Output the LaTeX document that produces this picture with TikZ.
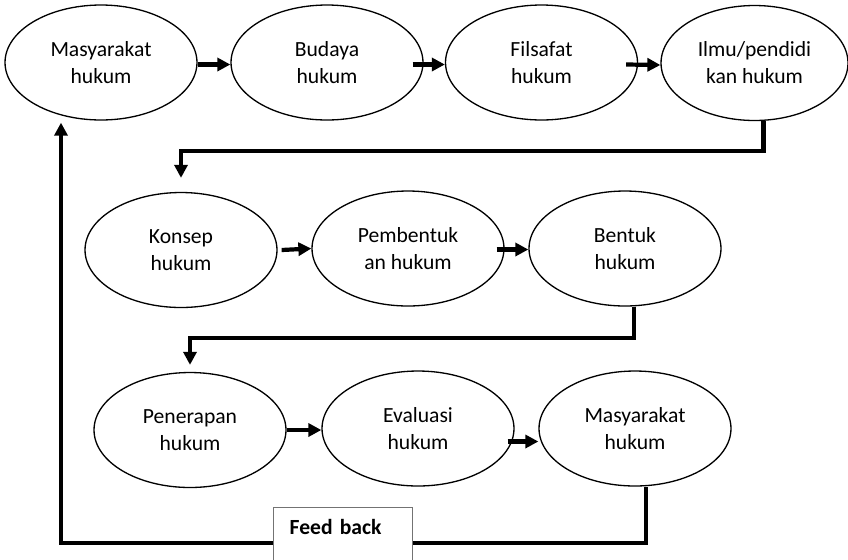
\documentclass[tikz,border=0pt]{standalone}
\usepackage{fontspec}
\setmainfont{Carlito}
\usetikzlibrary{shapes.geometric,arrows.meta,calc}

\begin{document}
\begin{tikzpicture}[x=0.02cm,y=-0.02cm,
  every node/.style={font=\fontsize{12.3}{15.4}\selectfont},
  stage/.style={ellipse,draw,line width=0.75pt,minimum width=3.84cm,minimum height=2.3cm,inner sep=0pt,align=center},
  flow/.style={line width=2.4pt,-{Triangle[length=2.6mm,width=2.6mm]}},
  fbbox/.style={draw=black!55,line width=0.8pt,fill=white,anchor=north west,inner xsep=0.32cm,inner ysep=0pt,
    text width=2.14cm,align=left,text height=0.54cm,text depth=0.56cm}]
\useasboundingbox (0,0) rectangle (848,559);

% Row 1
\node[stage] (masy1) at (101,62.5) {Masyarakat\\hukum};
\node[stage] (budaya) at (327,62.5) {Budaya\\hukum};
\node[stage] (filsafat) at (541.5,62.5) {Filsafat\\hukum};
\node[stage,minimum width=3.74cm] (ilmu) at (754.5,63) {Ilmu/pendidi\\kan hukum};

\draw[flow] ($(masy1.east)+(0,2)$) -- ($(budaya.west)+(0,2)$);
\draw[flow] ($(budaya.east)+(-11,2)$) -- ($(filsafat.west)+(0,2)$);
\draw[flow] ($(filsafat.east)+(-12,2)$) -- ($(ilmu.west)+(0,2)$);

% Row 2
\node[stage] (konsep) at (181,250) {Konsep\\hukum};
\node[stage] (pembentuk) at (408,248.5) {Pembentuk\\an hukum};
\node[stage] (bentuk) at (625,248.5) {Bentuk\\hukum};

\draw[flow] ($(ilmu.south)+(9,0)$) -- ++(0,30) -| ($(konsep.north)+(0,-14)$);
\draw[flow] ($(konsep.east)+(4,0)$) -- (pembentuk.west);
\draw[flow] ($(pembentuk.east)+(-8,1)$) -- ($(bentuk.west)+(0,1)$);

% Row 3
\node[stage] (penerapan) at (190,430) {Penerapan\\hukum};
\node[stage] (evaluasi) at (418,428.5) {Evaluasi\\hukum};
\node[stage] (masy2) at (635,428.5) {Masyarakat\\hukum};

\draw[flow] ($(bentuk.south)+(9,0)$) -- ++(0,31) -| ($(penerapan.north)+(0,-7)$);
\draw[flow] (penerapan.east) -- (penerapan.east -| evaluasi.west);
\draw[flow] ($(evaluasi.east)+(-7,13)$) -- ($(masy2.west)+(0,13)$);

% Feed back loop
\draw[flow] ($(masy2.south)+(11,0)$) -- ++(0,56) -| ($(masy1.south)+(-40,2)$);
\node[fbbox] (fb) at (273,507) {\textbf{Feed back}};
\end{tikzpicture}
\end{document}
